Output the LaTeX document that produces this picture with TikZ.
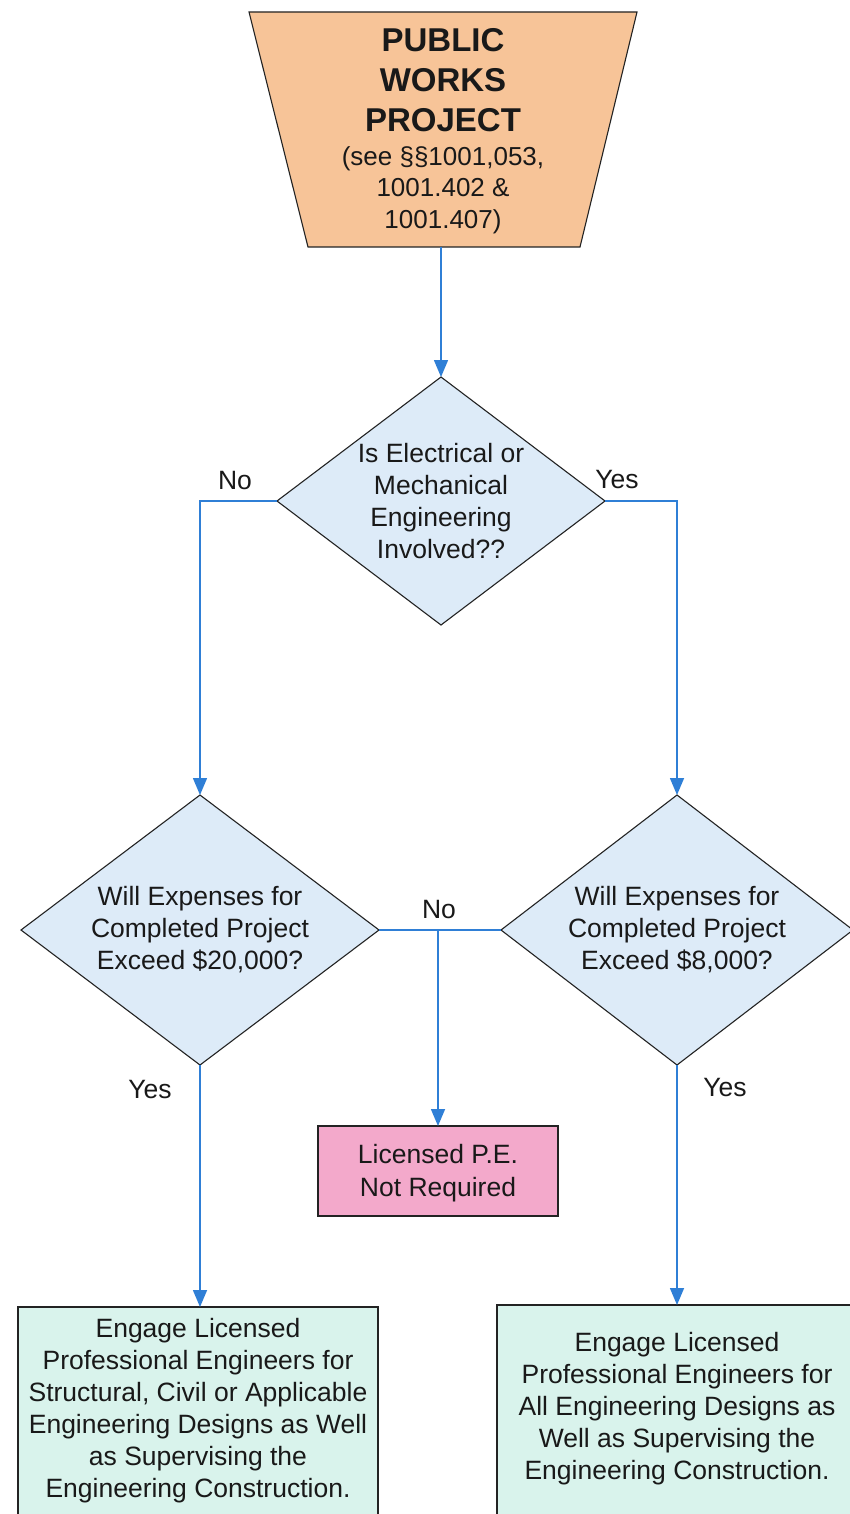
\documentclass[tikz,border=0pt]{standalone}
\usepackage{fontspec}
\setmainfont{Liberation Sans}
\usetikzlibrary{arrows.meta,shapes.geometric,calc}
\definecolor{peach}{RGB}{247,196,152}
\definecolor{diafill}{RGB}{221,235,248}
\definecolor{mint}{RGB}{217,243,236}
\definecolor{pinkbox}{RGB}{243,169,203}
\definecolor{flowblue}{RGB}{47,127,214}
\definecolor{edge}{RGB}{35,35,35}
\tikzset{
  txt/.style={align=center, font=\fontsize{26.5}{32}\selectfont, text=black!90, inner sep=0pt},
  ttl/.style={align=center, font=\fontsize{33}{40}\selectfont\bfseries, text=black!90, inner sep=0pt},
  lbl/.style={font=\fontsize{26.5}{32}\selectfont, text=black!90, inner sep=0pt},
  dia/.style={shape=diamond, draw=edge, line width=1.1pt, fill=diafill, inner sep=0pt, outer sep=0pt},
  boxg/.style={shape=rectangle, draw=edge, line width=1.1pt, fill=mint, inner sep=0pt, outer sep=0pt},
  boxp/.style={shape=rectangle, draw=edge, line width=1.1pt, fill=pinkbox, inner sep=0pt, outer sep=0pt},
  flow/.style={draw=flowblue, line width=1.5pt},
  arr/.style={flow, -{Triangle[width=14pt,length=17pt]}},
}
\begin{document}
\begin{tikzpicture}[x=1pt,y=-1pt]
\path[use as bounding box] (0,0) rectangle (850,1514);
\clip (0,0) rectangle (850,1514);
\fill[white] (0,0) rectangle (850,1514);

% start trapezoid
\draw[draw=edge, line width=1.1pt, fill=peach] (249,12) -- (637,12) -- (580,247) -- (308,247) -- cycle;
\node[ttl] (title) at (443,80) {PUBLIC\\WORKS\\PROJECT};
\node[txt, font=\fontsize{26}{31.5}\selectfont] (refs) at (443,190) {(see §§1001,053,\\1001.402 \&\\1001.407)};
\coordinate (startb) at (441,247);

% decisions
\node[dia, minimum width=328pt, minimum height=248pt] (d1) at (441,501) {};
\node[txt] (d1t) at (441,501) {Is Electrical or\\Mechanical\\Engineering\\Involved??};

\node[dia, minimum width=358pt, minimum height=270pt] (d2) at (200,930) {};
\node[txt] (d2t) at (200,930) {Will Expenses for\\Completed Project\\Exceed \$20,000?};

\node[dia, minimum width=352pt, minimum height=270pt] (d3) at (677,930) {};
\node[txt] (d3t) at (677,930) {Will Expenses for\\Completed Project\\Exceed \$8,000?};

% outcomes
\node[boxp, minimum width=240pt, minimum height=90pt] (pe) at (438,1171) {};
\node[txt, font=\fontsize{26.5}{33}\selectfont] (pet) at (438,1173) {Licensed P.E.\\Not Required};

\node[boxg, minimum width=360pt, minimum height=210pt] (g1) at (198,1412) {};
\node[txt] (g1t) at (198,1411) {Engage Licensed\\Professional Engineers for\\Structural, Civil or Applicable\\Engineering Designs as Well\\as Supervising the\\Engineering Construction.};

\node[boxg, minimum width=360pt, minimum height=210pt] (g2) at (677,1410) {};
\node[txt] (g2t) at (677,1409) {Engage Licensed\\Professional Engineers for\\All Engineering Designs as\\Well as Supervising the\\Engineering Construction.};

% connectors
\draw[arr] (startb) -- (d1.north);
\draw[arr] (d1.west) -| (d2.north);
\draw[arr] (d1.east) -| (d3.north);
\draw[flow] (d2.east) -- (d3.west);
\coordinate (junc) at (438,930);
\draw[arr] (junc) -- (pe.north);
\draw[arr] (d2.south) -- (d2.south |- g1.north);
\draw[arr] (d3.south) -- (d3.south |- g2.north);

% labels
\node[lbl] (lno1) at (235,481) {No};
\node[lbl] (lyes1) at (617,480) {Yes};
\node[lbl] (lno2) at (439,910) {No};
\node[lbl] (lyes2) at (150,1090) {Yes};
\node[lbl] (lyes3) at (725,1088) {Yes};
\end{tikzpicture}
\end{document}
